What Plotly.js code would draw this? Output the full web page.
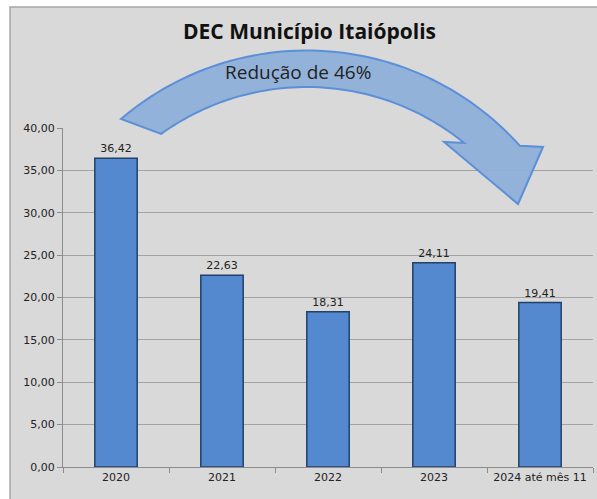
<!DOCTYPE html>
<html>
<head>
<meta charset="utf-8">
<script src="https://cdn.plot.ly/plotly-3.0.1.min.js"></script>
<style>html,body{margin:0;padding:0;background:#fff;}#chart{width:597px;height:499px;}</style>
</head>
<body>
<div id="chart"></div>
<script>
var categories = ["2020", "2021", "2022", "2023", "2024 até mês 11"];
var decValues = [36.42, 22.63, 18.31, 24.11, 19.41];
var valueLabels = ["36,42", "22,63", "18,31", "24,11", "19,41"];
var yTickValues = [0, 5, 10, 15, 20, 25, 30, 35, 40];

var W = 597, H = 499;
var mL = 63, mR = 4, mT = 128, mB = 32;
var pw = W - mL - mR, ph = H - mT - mB;
function px(x){ return ((x - mL) / pw).toFixed(4); }
function py(y){ return ((H - mB - y) / ph).toFixed(4); }
function P(p){ return px(p[0]) + "," + py(p[1]); }

// curved arrow decoration: concentric circular arcs in pixel space
var cx = 306.7, cy = 336.5, rOut = 286, rIn = 249.5;
function arc(r, a0, a1, n){
  var s = "";
  for (var i = 0; i <= n; i++) {
    var a = (a0 + (a1 - a0) * i / n) * Math.PI / 180;
    s += (i === 0 ? "" : " L") + P([cx + r * Math.cos(a), cy + r * Math.sin(a)]);
  }
  return s;
}
var arrowPath = "M" + arc(rOut, -130.5, -41.8, 60) +
  " L" + P([543,147]) + " L" + P([518,204]) + " L" + P([444,142]) +
  " L" + arc(rIn, -50.9, -125.7, 60) + " Z";

var trace = {
  type: "bar",
  x: categories,
  y: decValues,
  text: valueLabels,
  textposition: "outside",
  cliponaxis: false,
  textfont: {family: "DejaVu Sans", size: 11, color: "#222"},
  width: 0.4,
  marker: {color: "#5489cf", line: {color: "#22406a", width: 1.5}},
  hoverinfo: "none"
};

var layout = {
  width: W, height: H,
  margin: {l: mL, r: mR, t: mT, b: mB, pad: 0},
  paper_bgcolor: "#ffffff",
  plot_bgcolor: "rgba(0,0,0,0)",
  separators: ",.",
  showlegend: false,
  xaxis: {
    type: "category",
    showgrid: false,
    showline: true, linecolor: "#8c8c8c", linewidth: 1,
    ticks: "outside", tickson: "boundaries", ticklen: 5, tickcolor: "#8c8c8c",
    tickfont: {family: "DejaVu Sans", size: 11, color: "#222"},
    fixedrange: true
  },
  yaxis: {
    range: [0, 40],
    tickvals: yTickValues,
    tickformat: ".2f",
    showgrid: true, gridcolor: "#a3a3a3", gridwidth: 1,
    zeroline: false,
    showline: true, linecolor: "#8c8c8c", linewidth: 1,
    ticks: "outside", ticklen: 5, tickcolor: "#8c8c8c",
    tickfont: {family: "DejaVu Sans", size: 11, color: "#222"},
    fixedrange: true
  },
  shapes: [
    {type: "rect", xref: "paper", yref: "paper", layer: "below",
     x0: px(10), x1: px(600), y0: py(7), y1: py(502),
     fillcolor: "#d9d9d9", line: {color: "#a6a6a6", width: 1.5}},
    {type: "path", xref: "paper", yref: "paper", layer: "above",
     path: arrowPath, fillcolor: "rgba(142,176,218,0.95)", line: {color: "#5b8fd8", width: 2}}
  ],
  annotations: [
    {text: "<b>DEC Município Itaiópolis</b>", xref: "paper", yref: "paper",
     x: px(310), y: py(31), showarrow: false, xanchor: "center", yanchor: "middle",
     font: {family: "Open Sans", size: 21, color: "#111"}},
    {text: "Redução de 46%", xref: "paper", yref: "paper",
     x: px(298), y: py(72), showarrow: false, xanchor: "center", yanchor: "middle",
     font: {family: "Open Sans", size: 19, color: "#222"}}
  ]
};

Plotly.newPlot("chart", [trace], layout, {displayModeBar: false, staticPlot: true});
</script>
</body>
</html>
